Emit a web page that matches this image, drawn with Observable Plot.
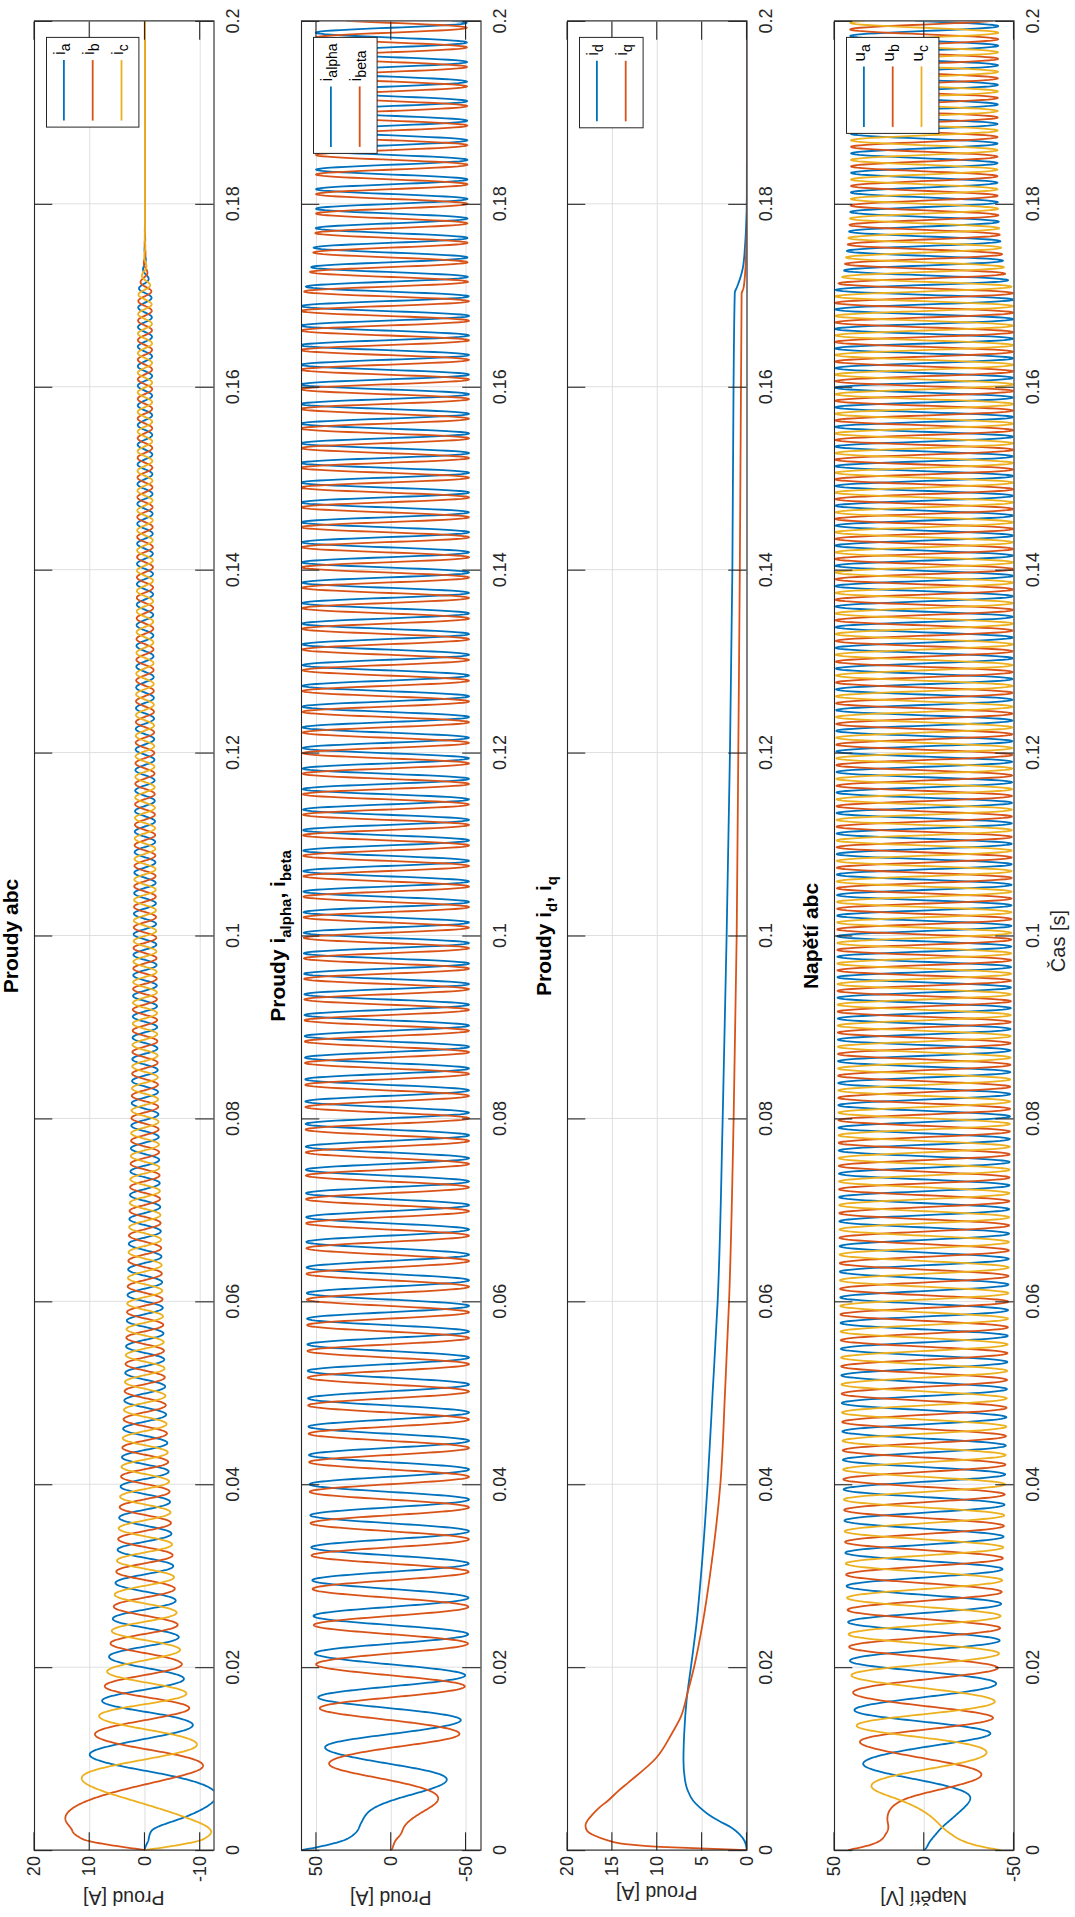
<!DOCTYPE html>
<html><head><meta charset="utf-8">
<script src="https://cdn.jsdelivr.net/npm/d3@7"></script>
<script src="https://cdn.jsdelivr.net/npm/@observablehq/plot@0.6"></script>
<style>
html,body{margin:0;padding:0;width:1075px;height:1917px;overflow:hidden;background:#fff;}
#fig{position:absolute;left:0;top:0;width:1917px;height:1075px;transform-origin:0 0;transform:translate(0px,1917px) rotate(-90deg);font-family:"Liberation Sans",Arial,Helvetica,sans-serif;color:#262626;background:#fff;}
#fig svg{position:absolute;left:0;}
</style></head><body><div id="fig"></div>
<script>
// ---------------- data ----------------
const timeTicks = [0, 0.02, 0.04, 0.06, 0.08, 0.1, 0.12, 0.14, 0.16, 0.18, 0.2];
const ticksAbc = [-10, 0, 10, 20];
const ticksAlphaBeta = [-50, 0, 50];
const ticksDq = [0, 5, 10, 15, 20];
const ticksU = [-50, 0, 50];

// cumulative number of turns of the alpha/beta current vector (read from peak positions)
const turnT = [0, 0.001, 0.00175, 0.003, 0.0054, 0.0076, 0.0094, 0.0112, 0.0127, 0.0142, 0.0155, 0.0167, 0.0179, 0.0191, 0.0203, 0.0215, 0.0256, 0.0295, 0.0331, 0.0400, 0.0463, 0.0524, 0.0609, 0.0692, 0.0794, 0.0890, 0.1003, 0.1205, 0.1408, 0.1624, 0.1816, 0.2];
const turnN = [0, 0.013, 0.04, 0.079, 0.25, 0.5, 0.75, 1, 1.25, 1.5, 1.75, 2, 2.25, 2.5, 2.75, 3, 4, 5, 6, 8, 10, 12, 15, 18, 22, 26, 31, 40, 49, 59, 68, 76.6];

// i_alpha / i_beta: upper and lower peak envelopes
const abEnvT = [0, 0.0003, 0.001, 0.00175, 0.003, 0.0054, 0.0076, 0.0094, 0.0112, 0.0127, 0.0142, 0.0167, 0.0192, 0.0214, 0.0257, 0.04, 0.06, 0.08, 0.1, 0.12, 0.14, 0.15, 0.169, 0.171, 0.1732, 0.1752, 0.1774, 0.18, 0.2];
const abUpper = [60, 50, 33, 25.5, 22.8, 31, 37, 41.5, 44.2, 45.6, 46.5, 48.8, 49.5, 51, 52, 54.6, 56.4, 57.3, 58.5, 59.2, 59.6, 60.5, 60.5, 57, 53.4, 51.9, 50.5, 50.3, 50.5];
const abLower = [-60, -50, -33, -25.5, -22.8, -31, -37, -41.5, -44.2, -45.6, -46.5, -48.8, -49.5, -51, -51.5, -52, -52, -52, -52, -52, -52, -52, -52, -51.5, -51, -51, -51, -51, -50.5];

// abc currents: phase (turns) in the first ms and peak envelope
const abcPhaseT = [0, 0.001, 0.0021, 0.0036, 0.0062, 0.008, 0.0093, 0.0105, 0.0116, 0.0127, 0.0147];
const abcPhaseN = [0.25, 0.258, 0.263, 0.333, 0.5, 0.667, 0.833, 1.0, 1.167, 1.333, 1.667];
const abcAmpT = [0, 0.0005, 0.001, 0.0015, 0.0021, 0.0036, 0.0062, 0.008, 0.0093, 0.0105, 0.0116, 0.0127, 0.0147, 0.02, 0.03, 0.04, 0.05, 0.06, 0.08, 0.1, 0.12, 0.14, 0.16, 0.1703, 0.1718, 0.1729, 0.1739, 0.1755, 0.1775, 0.179, 0.2];
const abcAmp = [0, 6.5, 11.5, 13.6, 14.55, 14.4, 12.8, 11.4, 10.5, 10.0, 9.4, 9.05, 8.3, 6.75, 5.25, 4.4, 3.7, 3.2, 2.45, 2.05, 1.7, 1.45, 1.3, 1.18, 0.68, 0.35, 0.16, 0.07, 0.02, 0, 0];

// i_d, i_q
const idT = [0, 0.001, 0.00175, 0.0025, 0.0032, 0.0039, 0.0047, 0.0054, 0.0065, 0.0076, 0.0098, 0.0127, 0.0164, 0.02, 0.025, 0.03, 0.04, 0.05, 0.06, 0.08, 0.1, 0.12, 0.14, 0.16, 0.1703, 0.1709, 0.1729, 0.1754, 0.1773, 0.1809, 0.2];
const idV = [0, 0.27, 0.85, 1.8, 3.15, 4.3, 5.3, 6.0, 6.6, 6.9, 7.08, 7.0, 6.73, 6.25, 5.6, 5.13, 4.39, 3.83, 3.27, 2.71, 2.27, 1.9, 1.63, 1.5, 1.36, 1.11, 0.48, 0.22, 0.11, 0.02, 0];
const iqT = [0, 0.00029, 0.00066, 0.0011, 0.0016, 0.0021, 0.0027, 0.0032, 0.0039, 0.0047, 0.0054, 0.0065, 0.0074, 0.0101, 0.0127, 0.0145, 0.0173, 0.02, 0.025, 0.03, 0.04, 0.05, 0.06, 0.08, 0.1, 0.12, 0.14, 0.16, 0.1702, 0.1707, 0.1718, 0.1754, 0.1791, 0.2];
const iqV = [0, 8.2, 13.5, 15.6, 17.0, 17.8, 18.0, 17.8, 17.2, 16.4, 15.5, 14.3, 13.2, 10.1, 8.4, 7.4, 6.6, 5.9, 4.9, 4.13, 2.97, 2.45, 2.0, 1.49, 1.15, 0.97, 0.8, 0.67, 0.6, 0.41, 0.26, 0.07, 0, 0];

// abc voltages: phase (turns) in the first ms and peak envelope
const uPhaseT = [0, 0.001, 0.0025, 0.0054, 0.0069, 0.0094, 0.0118, 0.0136, 0.0153, 0.0191, 0.0207];
const uPhaseN = [0.25, 0.27, 0.333, 0.5, 0.667, 1.0, 1.333, 1.667, 2.0, 2.667, 3.0];
const uAmpT = [0, 0.0005, 0.001, 0.00175, 0.0025, 0.0035, 0.0054, 0.0069, 0.0083, 0.0094, 0.0109, 0.0127, 0.0153, 0.0176, 0.0207, 0.0253, 0.03, 0.04, 0.06, 0.08, 0.1, 0.12, 0.14, 0.1703, 0.1723, 0.1737, 0.1755, 0.1792, 0.183, 0.2];
const uAmp = [48.7, 35, 27, 22, 20, 21.5, 25.3, 29.3, 32, 34, 34.9, 36.8, 38.9, 39.8, 41.4, 42.5, 43.5, 45, 46.8, 47.8, 48.5, 49, 49.4, 49.5, 45.2, 44, 42.7, 41.2, 40.8, 41.3];

// ---------------- helpers ----------------
function monotone(xs, ys) {
  const n = xs.length, d = [], m = new Array(n);
  for (let i = 0; i < n - 1; i++) d.push((ys[i + 1] - ys[i]) / (xs[i + 1] - xs[i]));
  m[0] = d[0]; m[n - 1] = d[n - 2];
  for (let i = 1; i < n - 1; i++) m[i] = d[i - 1] * d[i] <= 0 ? 0 : (d[i - 1] + d[i]) / 2;
  for (let i = 0; i < n - 1; i++) {
    if (d[i] === 0) { m[i] = 0; m[i + 1] = 0; continue; }
    const a = m[i] / d[i], b = m[i + 1] / d[i], s = a * a + b * b;
    if (s > 9) { const tau = 3 / Math.sqrt(s); m[i] = tau * a * d[i]; m[i + 1] = tau * b * d[i]; }
  }
  return x => {
    let i = d3.bisectRight(xs, x) - 1;
    i = Math.max(0, Math.min(n - 2, i));
    const h = xs[i + 1] - xs[i], t = (x - xs[i]) / h, t2 = t * t, t3 = t2 * t;
    return (2 * t3 - 3 * t2 + 1) * ys[i] + (t3 - 2 * t2 + t) * h * m[i] + (-2 * t3 + 3 * t2) * ys[i + 1] + (t3 - t2) * h * m[i + 1];
  };
}
const turns = monotone(turnT, turnN);
function phaseFn(tk, nk) {
  const early = monotone(tk, nk), last = tk[tk.length - 1];
  const off = nk[nk.length - 1] - turns(last);
  return t => t <= last ? early(t) : turns(t) + off;
}
const abcPhase = phaseFn(abcPhaseT, abcPhaseN);
const uPhase = phaseFn(uPhaseT, uPhaseN);
const abcA = monotone(abcAmpT, abcAmp);
const uA = monotone(uAmpT, uAmp);
const abU = monotone(abEnvT, abUpper), abL = monotone(abEnvT, abLower);

const ts = d3.range(4001).map(i => i * 0.2 / 4000);
const TAU = 2 * Math.PI, SH = [0, -TAU / 3, TAU / 3];
const abcRows = SH.map(s => ts.map(t => ({t, v: abcA(t) * Math.cos(TAU * abcPhase(t) + s)})));
const uRows = SH.map(s => ts.map(t => ({t, v: uA(t) * Math.cos(TAU * uPhase(t) + s)})));
const alphaRows = ts.map(t => { const u = abU(t), l = abL(t); return {t, v: (u + l) / 2 + (u - l) / 2 * Math.cos(TAU * turns(t))}; });
const betaRows = ts.map(t => { const u = abU(t), l = abL(t); return {t, v: (u + l) / 2 - (u - l) / 2 * Math.sin(TAU * turns(t))}; });
const idRows = idT.map((t, i) => ({t, v: idV[i]}));
const iqRows = iqT.map((t, i) => ({t, v: iqV[i]}));

// ---------------- layout ----------------
const W = 1917, mL = 66.4, mR = 21.4, mT = 34, plotH = 179.5, TICK = 18.3;
const svgTops = [0, 267, 533, 799.5];
const svgHeights = [267, 266, 266.5, 275.5];
const C = ["#0072BD", "#D95319", "#EDB120"];

const panels = [
  {yDomain: [-12.5, 20], yTicks: ticksAbc, series: abcRows.map((r, k) => ({rows: r, color: C[k]})),
   title: [["Proudy abc"]], ylabel: "Proud [A]", ylx: 26, legW: 89.7,
   legend: [["i", "a"], ["i", "b"], ["i", "c"]]},
  {yDomain: [-60, 60], yTicks: ticksAlphaBeta, series: [{rows: alphaRows, color: C[0]}, {rows: betaRows, color: C[1]}],
   title: [["Proudy i"], ["alpha", 1], [", i"], ["beta", 1]], ylabel: "Proud [A]", ylx: 26, legW: 116,
   legend: [["i", "alpha"], ["i", "beta"]]},
  {yDomain: [0, 20], yTicks: ticksDq, series: [{rows: idRows, color: C[0], curve: "monotone-x"}, {rows: iqRows, color: C[1], curve: "monotone-x"}],
   title: [["Proudy i"], ["d", 1], [", i"], ["q", 1]], ylabel: "Proud [A]", ylx: 31, legW: 90.4,
   legend: [["i", "d"], ["i", "q"]]},
  {yDomain: [-50, 50], yTicks: ticksU, series: uRows.map((r, k) => ({rows: r, color: C[k]})),
   title: [["Napětí abc"]], ylabel: "Napětí [V]", ylx: 26, legW: 96, xlabel: "Čas [s]",
   legend: [["u", "a"], ["u", "b"], ["u", "c"]]}
];

const fig = document.getElementById("fig");
panels.forEach((p, idx) => {
  const H = svgHeights[idx], mB = H - mT - plotH;
  const svg = Plot.plot({
    width: W, height: H, marginLeft: mL, marginRight: mR, marginTop: mT, marginBottom: mB,
    style: "color:#262626;background:transparent;overflow:visible;font-family:'Liberation Sans',Arial,sans-serif;",
    x: {type: "linear", domain: [0, 0.2]},
    y: {type: "linear", domain: p.yDomain},
    marks: [
      Plot.gridX(timeTicks, {stroke: "#dfdfdf", strokeOpacity: 1, strokeWidth: 1}),
      Plot.gridY(p.yTicks, {stroke: "#dfdfdf", strokeOpacity: 1, strokeWidth: 1}),
      ...p.series.map(s => Plot.line(s.rows, {x: "t", y: "v", stroke: s.color, strokeWidth: 1.8, clip: true, curve: s.curve || "linear"})),
      Plot.axisX(timeTicks, {tickSize: 0, tickPadding: 12.5, tickFormat: d => String(d), fontSize: 18, label: null}),
      Plot.axisY(p.yTicks, {tickSize: 0, tickPadding: 6, tickFormat: d => String(d), fontSize: 18, label: null}),
      Plot.frame({stroke: "#262626", strokeWidth: 1.1})
    ]
  });
  svg.style.top = svgTops[idx] + "px";
  fig.appendChild(svg);

  const sx = svg.scale("x"), sy = svg.scale("y");
  const X0 = sx.range[0], X1 = sx.range[1];
  const Yb = sy.range[0], Yt = sy.range[1];
  const S = d3.select(svg);

  // inward ticks on all four sides
  const tg = S.append("g").attr("stroke", "#262626").attr("stroke-width", 1.1);
  timeTicks.forEach(t => {
    const X = sx.apply(t);
    tg.append("line").attr("x1", X).attr("x2", X).attr("y1", Yb).attr("y2", Yb - TICK);
    tg.append("line").attr("x1", X).attr("x2", X).attr("y1", Yt).attr("y2", Yt + TICK);
  });
  p.yTicks.forEach(v => {
    const Y = sy.apply(v);
    tg.append("line").attr("x1", X0).attr("x2", X0 + TICK).attr("y1", Y).attr("y2", Y);
    tg.append("line").attr("x1", X1).attr("x2", X1 - TICK).attr("y1", Y).attr("y2", Y);
  });

  // title (with subscripts)
  const tt = S.append("text").attr("x", (X0 + X1) / 2).attr("y", Yt - 16.5)
    .attr("text-anchor", "middle").attr("font-weight", "bold").attr("font-size", 21).attr("fill", "#000");
  let shifted = false;
  p.title.forEach(([txt, sub]) => {
    const sp = tt.append("tspan").text(txt);
    if (sub) {
      sp.attr("font-size", 15);
      if (!shifted) sp.attr("dy", 6);
      shifted = true;
    } else {
      if (shifted) sp.attr("dy", -6);
      shifted = false;
    }
  });

  // y label
  S.append("text").attr("transform", `translate(${p.ylx},${(Yt + Yb) / 2}) rotate(-90)`)
    .attr("text-anchor", "middle").attr("font-size", 19.5).attr("fill", "#262626").text(p.ylabel);

  // x label
  if (p.xlabel) {
    S.append("text").attr("x", (X0 + X1) / 2 - 5).attr("y", Yb + 51.5).attr("text-anchor", "middle")
      .attr("font-size", 20).attr("fill", "#262626").text(p.xlabel);
  }

  // legend
  const n = p.legend.length, rowH = 28.8;
  const bw = p.legW, bh = n * rowH + 6;
  const bx = X1 - 16 - bw, by = Yt + 12.5;
  const lg = S.append("g");
  lg.append("rect").attr("x", bx).attr("y", by).attr("width", bw).attr("height", bh)
    .attr("fill", "#fff").attr("stroke", "#262626").attr("stroke-width", 1);
  p.legend.forEach(([main, sub], k) => {
    const ry = by + 3 + rowH / 2 + k * rowH;
    lg.append("line").attr("x1", bx + 6.5).attr("x2", bx + 67).attr("y1", ry).attr("y2", ry)
      .attr("stroke", C[k]).attr("stroke-width", 1.8);
    const tx = lg.append("text").attr("x", bx + 72).attr("y", ry + 1.5).attr("text-anchor", "start")
      .attr("font-size", 17).attr("fill", "#000");
    tx.append("tspan").text(main);
    tx.append("tspan").attr("font-size", 14).attr("dy", 5).text(sub);
  });
});
</script></body></html>
